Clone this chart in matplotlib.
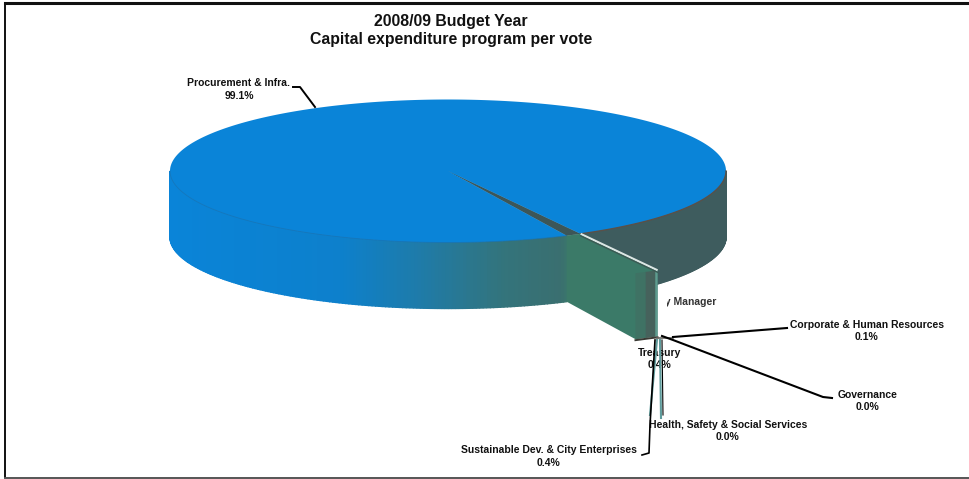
import numpy as np
import matplotlib
matplotlib.use("Agg")
import matplotlib.pyplot as plt
from matplotlib.colors import LinearSegmentedColormap
from matplotlib.patches import Polygon, Rectangle

plt.rcParams['font.family'] = ['Liberation Sans', 'DejaVu Sans']

# budget shares per vote, percent
votes = ["Procurement & Infra.", "City Manager", "Corporate & Human Resources", "Governance",
         "Health, Safety & Social Services", "Sustainable Dev. & City Enterprises", "Treasury"]
shares = [99.1, 0.0, 0.1, 0.0, 0.0, 0.4, 0.4]

title_lines = ["2008/09 Budget Year", "Capital expenditure program per vote"]

# where each label sits, in figure pixels
label_x = [239, None, 867, 868, 728, 549, 660]
label_y = [83, None, 325, 395, 425, 450, 353]
pct_gap = 12.5

# pie geometry in pixels
CX, CY = 448, 171
RX, RY = 278, 71.5
DEPTH = 66
CUT_DEG = 61.5
R_OUT = 1.58

BLUE = "#0a84d8"
DARK = "#3e5c5e"
GREEN = "#3b7a68"

# outer face colour of the small votes, same order as shares[1:]
face_colors = ["#4b6f68", "#5f9c90", "#46625c", "#44605a", "#46625c", "#3f7264"]


def project(r, deg, z=0.0):
    t = np.radians(deg)
    return np.column_stack([CX + r * RX * np.cos(t) * np.ones_like(t),
                            CY + r * RY * np.sin(t) * np.ones_like(t) + z])


def wall(ax, start, end, color_fn, n=160, zorder=2):
    # side of the cylinder, cut in narrow strips so the colour can change along it
    angles = np.linspace(start, end, n + 1)
    for a, b in zip(angles[:-1], angles[1:]):
        top = project(1.0, np.linspace(a, b, 3))
        bottom = project(1.0, np.linspace(b, a, 3), DEPTH)
        mid_x = project(1.0, (a + b) / 2)[0, 0]
        ax.add_patch(Polygon(np.vstack([top, bottom]), closed=True, fc=color_fn(mid_x),
                             ec=color_fn(mid_x), lw=1.0, zorder=zorder))


fig = plt.figure(figsize=(9.69, 4.79), dpi=100)
ax = fig.add_axes([0, 0, 1, 1])
ax.set_xlim(0, 969)
ax.set_ylim(479, 0)
ax.axis('off')

# share of the small votes, in degrees, opens the gap in the main slice
small_deg = 360 * sum(shares[1:]) / sum(shares)
main_deg = 360 * shares[0] / sum(shares)
main_start = CUT_DEG + small_deg
main_end = main_start + main_deg

front_cmap = LinearSegmentedColormap.from_list(
    "front", [(0.0, BLUE), (0.42, "#0d80cc"), (0.62, "#1f7ba8"), (0.82, "#33747c"),
              (0.96, "#3a6f70"), (1.0, GREEN)])

# hidden part of the City Manager label goes under the wall
manager = ax.text(684, 302, "City Manager", ha='center', va='center', fontsize=7.5,
                  fontweight='bold', color="#333333", zorder=1)
manager.set_clip_path(Rectangle((667, 290), 60, 25, transform=ax.transData))
manager.set_clip_on(True)

wall(ax, 0, CUT_DEG, lambda x: DARK)
wall(ax, main_start, 180, lambda x: front_cmap(np.clip((x - 170) / (575 - 170), 0, 1)))

# open gap and main slice on top
gap = np.vstack([[[CX, CY]], project(1.0, np.linspace(CUT_DEG, main_start, 6))])
ax.add_patch(Polygon(gap, closed=True, fc="#3c5658", ec="#3c5658", lw=0.4, zorder=3))
main_top = np.vstack([[[CX, CY]], project(1.0, np.linspace(main_start, main_end, 400))])
ax.add_patch(Polygon(main_top, closed=True, fc=BLUE, ec="none", zorder=4))
rim = project(1.0, np.linspace(main_start, 180, 120))
ax.plot(rim[:, 0], rim[:, 1], color="#1a72b0", lw=0.6, alpha=0.7, zorder=5)
rim = project(1.0, np.linspace(0, CUT_DEG, 60))
ax.plot(rim[:, 0], rim[:, 1], color="#5a5048", lw=1.0, zorder=5)

# cut side of the small votes, pulled out of the pie
side = np.vstack([project(1.0, main_start), project(1.0, CUT_DEG),
                  project(R_OUT, CUT_DEG), project(R_OUT, CUT_DEG, DEPTH),
                  project(R_OUT, main_start, DEPTH), project(1.0, main_start, DEPTH)])
ax.add_patch(Polygon(side, closed=True, fc=GREEN, ec="none", zorder=6))

# outer faces, one band per small vote
edges = CUT_DEG + np.cumsum([0] + list(np.array(shares[1:]) * 3.6))
for i in range(len(shares) - 1):
    if shares[i + 1] == 0:
        continue
    band = np.vstack([project(R_OUT, np.array([edges[i], edges[i + 1]])),
                      project(R_OUT, np.array([edges[i + 1], edges[i]]), DEPTH)])
    ax.add_patch(Polygon(band, closed=True, fc=face_colors[i], ec="none", zorder=7))

edge_line = np.vstack([project(1.0, CUT_DEG), project(R_OUT, CUT_DEG)])
ax.plot(edge_line[:, 0], edge_line[:, 1], color="#dce6e4", lw=1.5, zorder=8, solid_capstyle='butt')
ax.plot(edge_line[:, 0], edge_line[:, 1] + 2, color="#3c5a54", lw=1.0, zorder=8)
base = np.vstack([project(R_OUT, main_start, DEPTH), project(R_OUT, CUT_DEG, DEPTH)])
ax.plot(base[:, 0], base[:, 1] + 1, color="#3a3a34", lw=1.4, zorder=8)

# leader lines
ax.plot([293, 300, 315], [87, 87, 107], color="black", lw=1.4, zorder=9)
ax.plot([657, 673], [338, 338], color="#666660", lw=1.2, zorder=9)
ax.plot([673, 787], [337, 328], color="black", lw=1.5, zorder=9)
ax.plot([662, 673, 823, 832], [336, 340, 397, 398], color="black", lw=1.5, zorder=9)

# labels with their percentages
for name, share, x, y in zip(votes, shares, label_x, label_y):
    if x is None:
        continue
    ax.text(x, y, name, ha='center', va='center', fontsize=7.5, fontweight='bold', color="#111111", zorder=10)
    ax.text(x, y + pct_gap, f"{share:.1f}%", ha='center', va='center', fontsize=7.5,
            fontweight='bold', color="#111111", zorder=10)

# these two run across the Treasury label
ax.plot([657, 650], [340, 415], color="#5f9c9c", lw=1.5, zorder=11)
ax.plot([660, 661], [340, 418], color="#5f9c9c", lw=1.5, zorder=11)
ax.plot([655, 650, 649, 642], [340, 425, 453, 455], color="black", lw=1.2, zorder=11)
ax.plot([662, 663], [340, 415], color="black", lw=0.8, zorder=11)

ax.text(451, 21, title_lines[0], ha='center', va='center', fontsize=11.4, fontweight='bold', color="#111111")
ax.text(451, 39, title_lines[1], ha='center', va='center', fontsize=11.4, fontweight='bold', color="#111111")

# frame
ax.plot([5, 969], [3, 3], color="#111111", lw=2.2, clip_on=False)
ax.plot([5, 5], [3, 477], color="#111111", lw=1.4)
ax.plot([5, 969], [477.5, 477.5], color="#555555", lw=1.4)

fig.savefig("out.png", dpi=100)
